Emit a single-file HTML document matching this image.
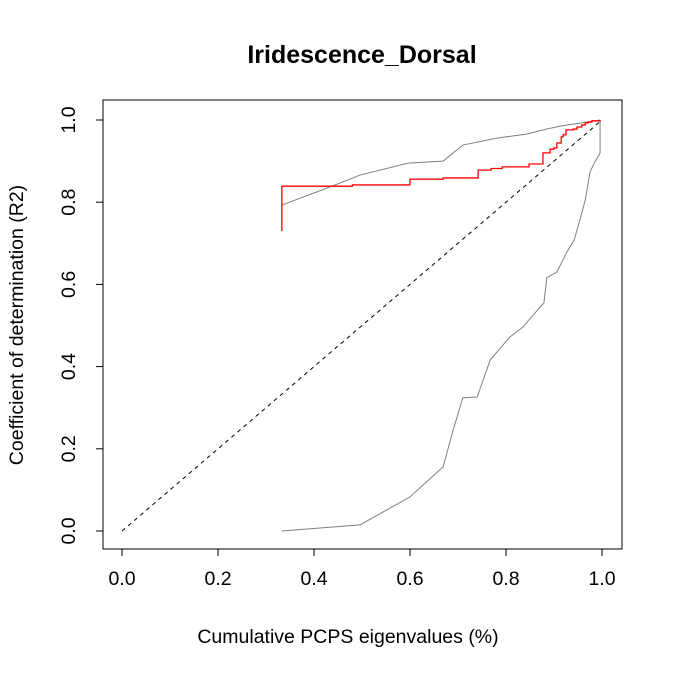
<!DOCTYPE html>
<html><head><meta charset="utf-8"><style>
body{margin:0;background:#fff}
svg{display:block;font-family:"Liberation Sans",sans-serif}
</style></head><body>
<svg id="chart" width="674" height="677" xmlns="http://www.w3.org/2000/svg">
<rect width="674" height="677" fill="#fff"/>
<text x="362" y="63" text-anchor="middle" font-size="25" font-weight="bold">Iridescence_Dorsal</text>
<rect x="103" y="100" width="519" height="449" fill="none" stroke="#000" stroke-width="1"/>
<g id="xaxis"></g>
<g id="yaxis"></g>
<text x="348" y="643" text-anchor="middle" font-size="19.5">Cumulative PCPS eigenvalues (%)</text>
<text transform="translate(23,325) rotate(-90)" text-anchor="middle" font-size="19.5">Coefficient of determination (R2)</text>
<g id="series"></g>
</svg>
<script>
const xTicks=[0,0.2,0.4,0.6,0.8,1.0];
const yTicks=[0,0.2,0.4,0.6,0.8,1.0];
const refX=[0,1];
const refY=[0,1];
const upperX=[0.333,0.433,0.496,0.596,0.669,0.710,0.781,0.844,0.885,0.913,0.996];
const upperY=[0.793,0.837,0.866,0.895,0.900,0.939,0.956,0.966,0.978,0.985,1.0];
const lowerX=[0.333,0.496,0.600,0.669,0.688,0.710,0.740,0.767,0.808,0.835,0.860,0.879,0.885,0.906,0.927,0.942,0.954,0.965,0.975,0.985,0.994,0.996,0.996];
const lowerY=[0.0,0.015,0.083,0.156,0.238,0.324,0.326,0.416,0.472,0.496,0.530,0.555,0.616,0.630,0.679,0.708,0.757,0.805,0.873,0.898,0.915,0.92,1.0];
const stepX=[0.333,0.333,0.48,0.600,0.669,0.742,0.769,0.792,0.848,0.877,0.892,0.900,0.906,0.915,0.919,0.925,0.940,0.948,0.958,0.965,0.971,0.979,0.996];
const stepY=[0.73,0.839,0.842,0.856,0.859,0.878,0.882,0.886,0.893,0.920,0.929,0.932,0.944,0.959,0.964,0.976,0.978,0.983,0.988,0.993,0.995,0.998,1.0];
const NS="http://www.w3.org/2000/svg";
const sx=v=>122+480*v, sy=v=>531-411*v;
const fmt=v=>v.toFixed(1);
function mk(tag,attrs,parent){const e=document.createElementNS(NS,tag);for(const k in attrs)e.setAttribute(k,attrs[k]);parent.appendChild(e);return e;}
const xa=document.getElementById('xaxis'), ya=document.getElementById('yaxis'), sg=document.getElementById('series');
mk('line',{x1:sx(xTicks[0]),x2:sx(xTicks[xTicks.length-1]),y1:549,y2:549,stroke:'#000'},xa);
xTicks.forEach(t=>{
  const l=mk('line',{x1:sx(t),x2:sx(t),y1:549,y2:556,stroke:'#000'},xa);
  
  
  const tx=mk('text',{x:sx(t),y:585,'text-anchor':'middle','font-size':'19.5'},xa);
  tx.textContent=fmt(t);
  
  
});
mk('line',{x1:103,x2:103,y1:sy(yTicks[0]),y2:sy(yTicks[yTicks.length-1]),stroke:'#000'},ya);
yTicks.forEach(t=>{
  const l=mk('line',{x1:96,x2:103,y1:sy(t),y2:sy(t),stroke:'#000'},ya);
  
  
  const tx=mk('text',{transform:`translate(75,${sy(t)}) rotate(-90)`,'text-anchor':'middle','font-size':'19.5'},ya);
  tx.textContent=fmt(t);
  
  
});
function pts(xs,ys){return xs.map((x,i)=>sx(x)+','+sy(ys[i])).join(' ');}
const ref=mk('polyline',{points:pts(refX,refY),fill:'none',stroke:'#000','stroke-dasharray':'4,4','stroke-width':1},sg);


const up=mk('polyline',{points:pts(upperX,upperY),fill:'none',stroke:'#808080','stroke-width':1},sg);


const lo=mk('polyline',{points:pts(lowerX,lowerY),fill:'none',stroke:'#808080','stroke-width':1},sg);


let sp=[];
stepX.forEach((x,i)=>{ if(i>0) sp.push(sx(x)+','+sy(stepY[i-1])); sp.push(sx(x)+','+sy(stepY[i])); });
const st=mk('polyline',{points:sp.join(' '),fill:'none',stroke:'#ff0000','stroke-width':1.3},sg);


</script>
</body></html>
